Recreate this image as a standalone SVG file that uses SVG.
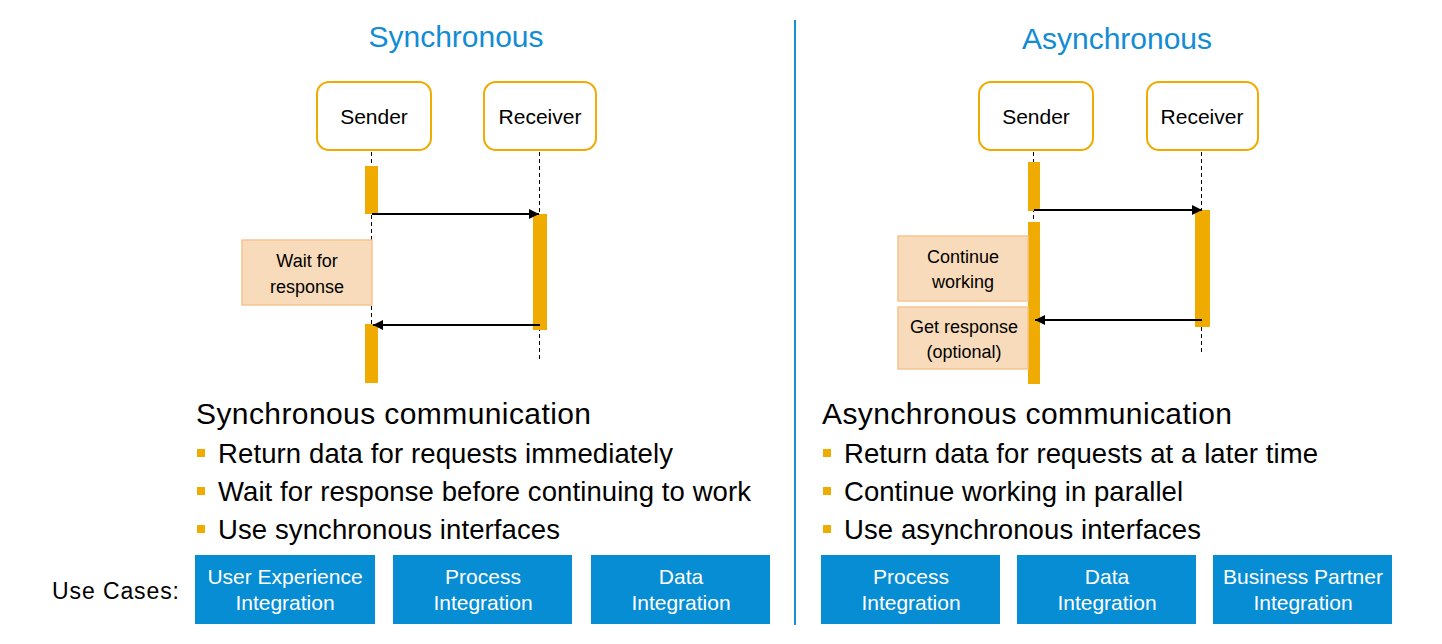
<svg xmlns="http://www.w3.org/2000/svg" width="1442" height="644" viewBox="0 0 1442 644">
<style>
text{font-family:"Liberation Sans",Arial,sans-serif;}
.title{font-size:30px;fill:#128CD4;text-anchor:middle;}
.actor rect{fill:#fff;stroke:#F0AB00;stroke-width:2;}
.actor text{font-size:21px;fill:#000;text-anchor:middle;}
.life{stroke:#000;stroke-width:1;stroke-dasharray:4 3;fill:none;}
.bar{fill:#F0AB00;}
.note rect{fill:#F8DBBA;stroke:#F6C48E;stroke-width:1.5;}
.note text{font-size:18px;fill:#000;text-anchor:middle;}
.msg{stroke:#000;stroke-width:2;fill:none;marker-end:url(#ah);}
.head{font-size:30px;fill:#000;}
.bul{font-size:27.5px;fill:#000;}
.sq{fill:#F0AB00;}
.uc rect{fill:#078DD3;}
.uc text{font-size:21px;fill:#fff;text-anchor:middle;}
</style>
<defs>
<marker id="ah" viewBox="0 0 10 10" refX="10" refY="5" markerWidth="5" markerHeight="5" orient="auto" markerUnits="strokeWidth">
<path d="M0,0 L10,5 L0,10 z" fill="#000"/>
</marker>
</defs>
<rect width="1442" height="644" fill="#fff"/>
<line x1="795" y1="20" x2="795" y2="625" stroke="#1A8FD6" stroke-width="2"/>
<text class="title" x="456" y="47">Synchronous</text>
<text class="title" x="1117" y="49">Asynchronous</text>

<g id="lifelines">
<line class="life" x1="371.5" y1="152" x2="371.5" y2="383"/>
<line class="life" x1="539.5" y1="152" x2="539.5" y2="359"/>
<line class="life" x1="1033.5" y1="152" x2="1033.5" y2="384"/>
<line class="life" x1="1201.5" y1="152" x2="1201.5" y2="355"/>
</g>

<g id="sync-sender" class="actor"><rect x="317" y="82" width="114" height="68" rx="12"/><text x="374" y="124">Sender</text></g>
<g id="sync-receiver" class="actor"><rect x="484" y="82" width="112" height="68" rx="12"/><text x="540" y="124">Receiver</text></g>
<g id="async-sender" class="actor"><rect x="979" y="82" width="114" height="68" rx="12"/><text x="1036" y="124">Sender</text></g>
<g id="async-receiver" class="actor"><rect x="1147" y="82" width="111" height="68" rx="12"/><text x="1202" y="124">Receiver</text></g>

<g id="activations">
<rect class="bar" x="365" y="166" width="13" height="48"/>
<rect class="bar" x="365" y="324" width="13" height="59"/>
<rect class="bar" x="533" y="214" width="14" height="116"/>
<rect class="bar" x="1028" y="162" width="12" height="49"/>
<rect class="bar" x="1028" y="222" width="12" height="162"/>
<rect class="bar" x="1195" y="210" width="15" height="117"/>
</g>

<g id="note-wait" class="note"><rect x="242" y="240" width="130" height="65"/><text x="307" y="267">Wait for</text><text x="307" y="293">response</text></g>
<g id="note-continue" class="note"><rect x="898" y="236" width="130" height="65"/><text x="963" y="263">Continue</text><text x="963" y="288">working</text></g>
<g id="note-get" class="note"><rect x="898" y="307" width="130" height="62"/><text x="964" y="333">Get response</text><text x="964" y="358">(optional)</text></g>

<g id="connectors">
<line class="msg" x1="372" y1="214" x2="539" y2="214"/>
<line class="msg" x1="540" y1="325" x2="373" y2="325"/>
<line class="msg" x1="1034" y1="210" x2="1202" y2="210"/>
<line class="msg" x1="1202" y1="320" x2="1035" y2="320"/>
</g>

<g id="sync-text">
<text class="head" x="196" y="424" textLength="395" lengthAdjust="spacing">Synchronous communication</text>
<rect class="sq" x="197" y="449" width="8" height="8"/>
<text class="bul" x="218" y="463" textLength="455" lengthAdjust="spacing">Return data for requests immediately</text>
<rect class="sq" x="197" y="487" width="8" height="8"/>
<text class="bul" x="218" y="501" textLength="533" lengthAdjust="spacing">Wait for response before continuing to work</text>
<rect class="sq" x="197" y="525" width="8" height="8"/>
<text class="bul" x="218" y="539" textLength="342" lengthAdjust="spacing">Use synchronous interfaces</text>
</g>
<g id="async-text">
<text class="head" x="822" y="424" textLength="410" lengthAdjust="spacing">Asynchronous communication</text>
<rect class="sq" x="823" y="449" width="8" height="8"/>
<text class="bul" x="844" y="463" textLength="474" lengthAdjust="spacing">Return data for requests at a later time</text>
<rect class="sq" x="823" y="487" width="8" height="8"/>
<text class="bul" x="844" y="501" textLength="339" lengthAdjust="spacing">Continue working in parallel</text>
<rect class="sq" x="823" y="525" width="8" height="8"/>
<text class="bul" x="844" y="539" textLength="357" lengthAdjust="spacing">Use asynchronous interfaces</text>
</g>

<text x="52" y="599" font-size="23" fill="#000" textLength="127" lengthAdjust="spacing">Use Cases:</text>
<g id="uc-uxi" class="uc"><rect x="195" y="555" width="180" height="69"/><text x="285" y="584">User Experience</text><text x="285" y="610">Integration</text></g>
<g id="uc-pi-sync" class="uc"><rect x="393" y="555" width="179" height="69"/><text x="483" y="584">Process</text><text x="483" y="610">Integration</text></g>
<g id="uc-di-sync" class="uc"><rect x="591" y="555" width="179" height="69"/><text x="681" y="584">Data</text><text x="681" y="610">Integration</text></g>
<g id="uc-pi-async" class="uc"><rect x="821" y="555" width="179" height="69"/><text x="911" y="584">Process</text><text x="911" y="610">Integration</text></g>
<g id="uc-di-async" class="uc"><rect x="1017" y="555" width="179" height="69"/><text x="1107" y="584">Data</text><text x="1107" y="610">Integration</text></g>
<g id="uc-bpi" class="uc"><rect x="1213" y="555" width="179" height="69"/><text x="1303" y="584">Business Partner</text><text x="1303" y="610">Integration</text></g>
</svg>
